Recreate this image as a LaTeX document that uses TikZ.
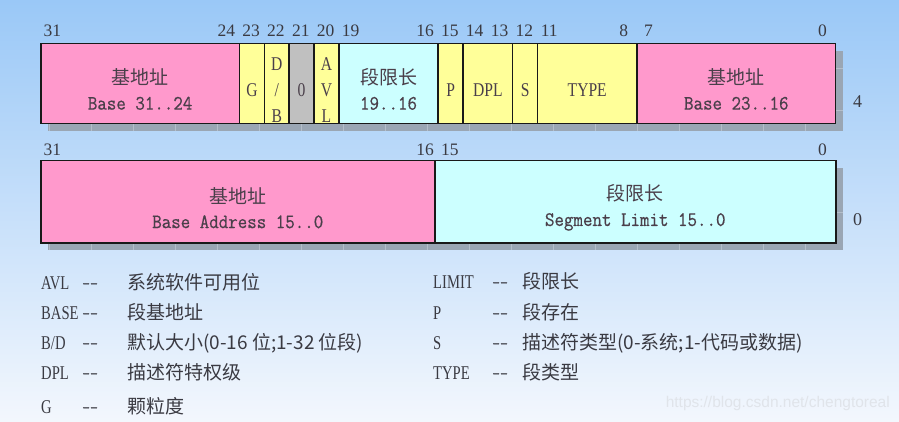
\documentclass[tikz,border=0pt]{standalone}
\usepackage{fontspec}
\setmainfont{Liberation Serif}
\newfontfamily\cjk{Noto Sans CJK SC}
\newfontfamily\narrowserif[FakeStretch=0.8]{Liberation Serif}
\newfontfamily\keyfont[FakeStretch=0.75]{Liberation Serif}
\newfontfamily\narrowmono[FakeStretch=0.9,FakeBold=0.6]{Latin Modern Mono}
\newfontfamily\webfont{Liberation Sans}
\usetikzlibrary{positioning}
\definecolor{basepink}{HTML}{FF99CC}
\definecolor{limitcyan}{HTML}{CCFFFF}
\definecolor{flagyellow}{HTML}{FFFF99}
\definecolor{zerogrey}{HTML}{C0C0C0}
\definecolor{inktext}{HTML}{4A3F4A}
\definecolor{numtext}{HTML}{3A3A42}
\definecolor{shadowgrey}{HTML}{9AA6B4}
\definecolor{shadowline}{HTML}{B4BECA}
\definecolor{bgtop}{HTML}{9AC8F7}
\definecolor{bgmid}{HTML}{C4DEF8}
\definecolor{bgbottom}{HTML}{F3F7FD}
\definecolor{marktext}{HTML}{E0E4EA}
\newcommand{\zh}[1]{{\fontsize{19}{25}\selectfont\cjk #1}}
\newcommand{\dashes}{{\fontsize{17}{17}\selectfont\narrowmono -{}-}}

\begin{document}
\begin{tikzpicture}[
    x=1pt, y=-1pt,
    cell/.style={draw=black!90, line width=1.5pt, inner sep=0pt, anchor=north west},
    celltext/.style={align=center, inner sep=0pt, text=inktext, font=\fontsize{20.5}{25}\selectfont\narrowmono},
    flagtext/.style={align=center, inner sep=0pt, text=inktext, font=\fontsize{19.5}{26}\selectfont\narrowserif},
    bitno/.style={anchor=base, inner sep=0pt, text=numtext, font=\fontsize{17.5}{18}\selectfont},
    legend/.style={anchor=base west, inner sep=0pt, text=numtext, font=\fontsize{19.5}{20}\selectfont\keyfont}
]
    % Background
    \useasboundingbox (0,0) rectangle (899,422);
    \shade[top color=bgtop, middle color=bgmid, bottom color=bgbottom] (0,0) rectangle (899,422);

    % Drop shadows of both rows
    \foreach \top/\bot in {43/123, 160/242} {
        \fill[shadowgrey] (48,\bot) rectangle (843,\bot+8);
        \fill[shadowgrey] (835,\top+8) rectangle (843,\bot+8);
        \foreach \x in {49,91,...,805}
            \draw[shadowline, line width=0.6pt] (\x,\bot) -- (\x,\bot+8);
    }
    \draw[shadowline, line width=0.6pt] (835,68) -- (843,68);
    \draw[shadowline, line width=0.6pt] (835,110) -- (843,110);
    \draw[shadowline, line width=0.6pt] (835,212) -- (843,212);

    % Upper double word: fields
    \foreach \name/\hi/\lo/\col in {base3124/31/24/basepink, gflag/23/23/flagyellow,
        dbflag/22/22/flagyellow, zeroflag/21/21/zerogrey, avlflag/20/20/flagyellow,
        limit1916/19/16/limitcyan, pflag/15/15/flagyellow, dplflag/14/13/flagyellow,
        sflag/12/12/flagyellow, typeflag/11/8/flagyellow, base2316/7/0/basepink}
        \node[cell, fill=\col, minimum height=80pt, minimum width={(\hi-\lo+1)*24.84pt}]
            (\name) at ({40+(31-\hi)*24.84},43) {};

    \node[celltext] (t3124) at ([yshift=-5.5pt]base3124.center) {\zh{基地址}\\Base 31..24};
    \node[flagtext] (tg) at ([yshift=-6.5pt]gflag.center) {G};
    \node[flagtext] (tdb) at ([yshift=-6.5pt]dbflag.center) {D\\/\\B};
    \node[flagtext] (tzero) at ([yshift=-6.5pt]zeroflag.center) {0};
    \node[flagtext] (tavl) at ([yshift=-6.5pt]avlflag.center) {A\\V\\L};
    \node[celltext] (t1916) at ([yshift=-5.5pt]limit1916.center) {\zh{段限长}\\19..16};
    \node[flagtext] (tp) at ([yshift=-6.5pt]pflag.center) {P};
    \node[flagtext] (tdpl) at ([yshift=-6.5pt]dplflag.center) {DPL};
    \node[flagtext] (ts) at ([yshift=-6.5pt]sflag.center) {S};
    \node[flagtext] (ttype) at ([yshift=-6.5pt]typeflag.center) {TYPE};
    \node[celltext] (t2316) at ([yshift=-5.5pt]base2316.center) {\zh{基地址}\\Base 23..16};

    % Lower double word: fields
    \node[cell, fill=basepink, minimum height=82pt, minimum width=394pt] (base150) at (40,160) {};
    \node[cell, fill=limitcyan, minimum height=82pt, minimum width=401pt] (limit150) at (434,160) {};
    \node[celltext] (tb150) at ([yshift=-6pt]base150.center) {\zh{基地址}\\Base Address 15..0};
    \node[celltext] (tl150) at ([yshift=-6pt]limit150.center) {\zh{段限长}\\Segment Limit 15..0};

    % Bit numbers and offsets
    \foreach \b in {31,24,23,22,21,20,19,16,15,14,13,12,11,8,7,0}
        \node[bitno] (hi\b) at ({40+(31.5-\b)*24.84},37) {\b};
    \foreach \b in {31,16,15,0}
        \node[bitno] (lo\b) at ({40+(31.5-\b)*24.84},156) {\b};
    \node[bitno, font=\fontsize{18}{18}\selectfont] (off4) at (857.5,107.7) {4};
    \node[bitno, font=\fontsize{18}{18}\selectfont] (off0) at (857.5,225.2) {0};

    % Legend
    \foreach \k/\d/\y [count=\i] in {AVL/系统软件可用位/289, BASE/段基地址/319,
        {B/D}/{默认大小(0-16 位;1-32 位段)}/349, DPL/描述符特权级/379, G/颗粒度/413}
        \node[legend] (keyl\i) at (41,\y) {\makebox[41pt][l]{\k}\makebox[45pt][l]{\dashes}\zh{\d}};
    \foreach \k/\d/\y [count=\i] in {LIMIT/段限长/288, P/段存在/319,
        S/{描述符类型(0-系统;1-代码或数据)}/349, TYPE/段类型/379}
        \node[legend] (keyr\i) at (433,\y) {\makebox[59pt][l]{\k}\makebox[30pt][l]{\dashes}\zh{\d}};

    \node[anchor=east, inner sep=0pt, text=marktext, font=\fontsize{15.5}{16}\selectfont\webfont]
        (mark) at (890,403) {https://blog.csdn.net/chengtoreal};
\end{tikzpicture}
\end{document}
